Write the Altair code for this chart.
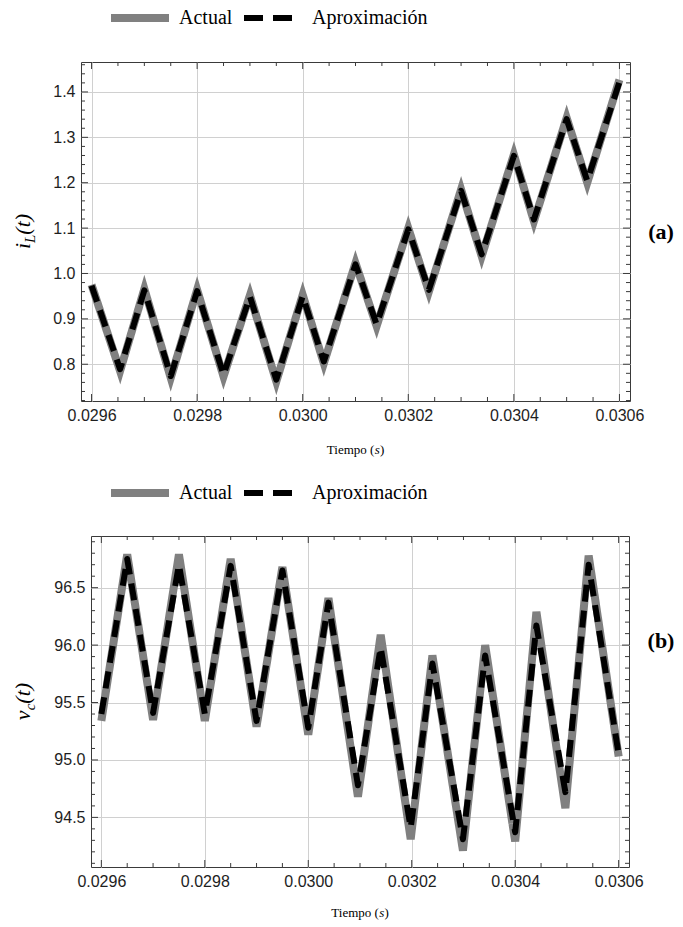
import altair as alt
import numpy as np
import pandas as pd

SERIES = ["Actual", "Aproximación"]

# ---- (a) inductor current ----
t_il = [0.02960, 0.029654, 0.02970, 0.02975, 0.02980, 0.02985, 0.02990, 0.02995,
        0.03000, 0.03004, 0.03010, 0.03014, 0.03020, 0.030239, 0.03030, 0.030339,
        0.03040, 0.030438, 0.03050, 0.030539, 0.03060]
il_actual = [0.975, 0.785, 0.966, 0.770, 0.964, 0.773, 0.952, 0.762, 0.953, 0.802,
             1.023, 0.884, 1.100, 0.960, 1.185, 1.038, 1.262, 1.115, 1.343, 1.200, 1.427]
il_aprox = [0.973, 0.789, 0.963, 0.774, 0.961, 0.777, 0.949, 0.766, 0.950, 0.806,
            1.020, 0.888, 1.097, 0.964, 1.182, 1.042, 1.259, 1.119, 1.340, 1.204, 1.422]

# ---- (b) capacitor voltage ----
t_vc = [0.02960, 0.02965, 0.02970, 0.02975, 0.02980, 0.02985, 0.02990, 0.02995,
        0.03000, 0.030039, 0.030096, 0.03014, 0.030198, 0.03024, 0.030299, 0.030342,
        0.03040, 0.030441, 0.030497, 0.030542, 0.03060]
vc_actual = [95.34, 96.79, 95.35, 96.79, 95.34, 96.75, 95.29, 96.68, 95.22, 96.41,
             94.68, 96.09, 94.31, 95.91, 94.21, 96.00, 94.29, 96.29, 94.58, 96.78, 95.03]
vc_aprox = [95.40, 96.75, 95.41, 96.70, 95.40, 96.69, 95.34, 96.65, 95.28, 96.37,
            94.78, 95.98, 94.41, 95.84, 94.31, 95.91, 94.37, 96.17, 94.72, 96.70, 95.05]

x_labels = [0.0296, 0.0298, 0.0300, 0.0302, 0.0304, 0.0306]
il_labels = [0.8, 0.9, 1.0, 1.1, 1.2, 1.3, 1.4]
vc_labels = [94.5, 95.0, 95.5, 96.0, 96.5]

X_DOMAIN = [0.02958, 0.03062]
IL_DOMAIN = [0.719, 1.466]
VC_DOMAIN = [94.068, 96.95]

SERIF = "Liberation Serif"
SANS = "Liberation Sans"
FRAME = "#3a3a3a"
GRID = "#d0d0d0"
LBL = "#1e1e1e"
COLORS = ["#808080", "#000000"]
DASHES = [[1, 0], [17, 9]]
WIDTHS = [8, 6]


def minor_ticks(start, stop, step, majors):
    vals = np.round(np.arange(start, stop + step / 2, step), 6)
    return [float(v) for v in vals if not any(abs(v - m) < step / 10 for m in majors)]


x_minor = minor_ticks(0.02960, 0.03060, 0.00005, x_labels)
il_minor = minor_ticks(0.72, 1.46, 0.02, il_labels)
vc_minor = minor_ticks(94.1, 96.9, 0.1, vc_labels)


def series_df(t, a, b):
    return pd.DataFrame({
        "t": list(t) + list(t),
        "v": list(a) + list(b),
        "serie": [SERIES[0]] * len(t) + [SERIES[1]] * len(t),
    })


def text_layer(s, x, y, size, style="normal", weight="normal", angle=0,
               align="left", baseline="alphabetic", font=SERIF):
    kw = dict(align=align, baseline=baseline, fontSize=size, fontStyle=style,
              fontWeight=weight, font=font, color="black")
    if angle:
        kw["angle"] = angle
    return alt.Chart(pd.DataFrame({"s": [s]})).mark_text(**kw).encode(
        text="s:N", x=alt.value(x), y=alt.value(y))


def legend_layers(lx, ly):
    """Legend drawn above the panel: symbol line + label for each series."""
    out = []
    sym_x = [lx, lx + 133]
    lab_x = [lx + 68, lx + 201]
    sym_dash = [[1, 0], [19, 10]]
    for i, name in enumerate(SERIES):
        d = pd.DataFrame({"serie": [name]})
        out.append(alt.Chart(d).mark_rule(strokeWidth=WIDTHS[i], strokeDash=sym_dash[i],
                                          color=COLORS[i], strokeCap="butt").encode(
            x=alt.value(sym_x[i]), x2=alt.value(sym_x[i] + 58), y=alt.value(ly)))
        out.append(text_layer(name, lab_x[i], ly, 20, baseline="middle"))
    return out


def panel(t, act, apx, ydom, ylabels, yminor, W, H, leg_x, leg_y,
          ymain, ysub, ybase, tag, tag_x, tag_y, xt_y):
    df = series_df(t, act, apx)
    x_axis = alt.Axis(values=x_labels, format=".4f", title=None, grid=True,
                      gridColor=GRID, gridWidth=1, ticks=False, domain=False,
                      labelFont=SANS, labelFontSize=16, labelColor=LBL,
                      labelPadding=6, labelFlush=False, labelOverlap=False)
    y_axis = alt.Axis(values=ylabels, format=".1f", title=None, grid=True,
                      gridColor=GRID, gridWidth=1, ticks=False, domain=False,
                      labelFont=SANS, labelFontSize=16, labelColor=LBL,
                      labelPadding=6, labelFlush=False, labelOverlap=False)
    xscale = alt.Scale(domain=X_DOMAIN, nice=False, zero=False)
    yscale = alt.Scale(domain=ydom, nice=False, zero=False)
    xenc = alt.X("t:Q", scale=xscale, axis=x_axis)
    yenc = alt.Y("v:Q", scale=yscale, axis=y_axis)
    base = alt.Chart(df).encode(
        x=xenc, y=yenc,
        color=alt.Color("serie:N", scale=alt.Scale(domain=SERIES, range=COLORS), legend=None),
        strokeDash=alt.StrokeDash("serie:N", scale=alt.Scale(domain=SERIES, range=DASHES),
                                  legend=None),
        strokeWidth=alt.StrokeWidth("serie:N", scale=alt.Scale(domain=SERIES, range=WIDTHS),
                                    legend=None),
    )
    gray = base.transform_filter(alt.datum.serie == SERIES[0]).mark_line(
        strokeJoin="miter", strokeCap="butt")
    black = base.transform_filter(alt.datum.serie == SERIES[1]).mark_line(
        strokeJoin="round", strokeCap="butt")

    layers = [gray, black]

    def xt(vals, L):
        d = pd.DataFrame({"t": vals})
        top = alt.Chart(d).mark_rule(color=FRAME, strokeWidth=1).encode(
            x=alt.X("t:Q", scale=xscale, axis=x_axis), y=alt.value(0), y2=alt.value(L))
        bot = alt.Chart(d).mark_rule(color=FRAME, strokeWidth=1).encode(
            x=alt.X("t:Q", scale=xscale, axis=x_axis), y=alt.value(H), y2=alt.value(H - L))
        return [top, bot]

    def yt(vals, L):
        d = pd.DataFrame({"v": vals})
        left = alt.Chart(d).mark_rule(color=FRAME, strokeWidth=1).encode(
            y=alt.Y("v:Q", scale=yscale, axis=y_axis), x=alt.value(0), x2=alt.value(L))
        right = alt.Chart(d).mark_rule(color=FRAME, strokeWidth=1).encode(
            y=alt.Y("v:Q", scale=yscale, axis=y_axis), x=alt.value(W), x2=alt.value(W - L))
        return [left, right]

    layers += xt(x_labels, 7) + xt(x_minor, 4) + yt(ylabels, 7) + yt(yminor, 4)

    # y title, rotated, with subscript
    main_w = {"i": 6.1, "v": 9.8}[ymain]
    sub_w = {"L": 8.3, "c": 6.7}[ysub]
    par_w = 20.8
    total = main_w + sub_w + par_w
    y0 = H / 2 + total / 2
    layers.append(text_layer(ymain, ybase, y0, 22, style="italic", angle=270))
    layers.append(text_layer(ysub, ybase + 5, y0 - main_w, 15, style="italic", angle=270))
    layers.append(text_layer("(t)", ybase, y0 - main_w - sub_w, 22, style="italic", angle=270))

    # x title "Tiempo (s)"
    x0 = W / 2 - 28.7
    layers.append(text_layer("Tiempo (", x0, H + xt_y, 13, baseline="middle"))
    layers.append(text_layer("s", x0 + 48.0, H + xt_y, 13, style="italic", baseline="middle"))
    layers.append(text_layer(")", x0 + 53.1, H + xt_y, 13, baseline="middle"))

    # panel tag
    layers.append(text_layer(tag, tag_x, tag_y, 22, weight="bold", align="center",
                             baseline="middle"))

    layers += legend_layers(leg_x, leg_y)

    return alt.layer(*layers).properties(width=W, height=H)


def spacer():
    # invisible, frameless cell so that each row's left bounds (not plot origins) align
    return alt.Chart(pd.DataFrame({"a": [0]}), view=alt.ViewBackground(stroke=None)).mark_point(
        opacity=0, size=1).encode(x=alt.value(0), y=alt.value(0)).properties(width=1, height=1)


top = panel(t_il, il_actual, il_aprox, IL_DOMAIN, il_labels, il_minor, 549, 339,
            30, -44, "i", "L", -51, "(a)", 580, 170, 49)
bottom = panel(t_vc, vc_actual, vc_aprox, VC_DOMAIN, vc_labels, vc_minor, 538, 331,
               20, -43, "v", "c", -61, "(b)", 570, 105, 46)

chart = alt.vconcat(
    alt.hconcat(spacer(), top, spacing=0),
    alt.hconcat(spacer(), bottom, spacing=0),
    spacing=24,
).configure_view(
    stroke=FRAME, strokeWidth=1
).properties(
    padding={"left": 9, "top": 7, "right": 0, "bottom": 0},
    background="white",
)

chart.save("out.html", embed_options={"renderer": "svg", "actions": False})
